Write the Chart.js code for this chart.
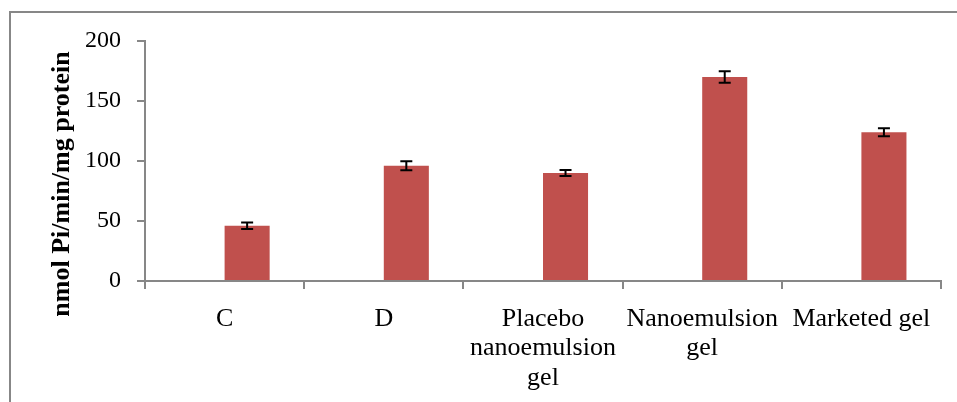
<!DOCTYPE html>
<html>
<head>
<meta charset="utf-8">
<script src="https://cdn.jsdelivr.net/npm/chart.js@4/dist/chart.umd.min.js"></script>
<style>
  html, body { margin: 0; padding: 0; background: #ffffff; overflow: hidden; }
  #frame { position: absolute; left: 9px; top: 11px; width: 1000px; height: 500px; border: 2px solid #878787; box-sizing: border-box; }
  #wrap { position: absolute; left: 0; top: 0; width: 957px; height: 402px; }
</style>
</head>
<body>
<div id="frame"></div>
<div id="wrap"><canvas id="c" width="957" height="402"></canvas></div>
<script>
const categories = ['C', 'D', ['Placebo', 'nanoemulsion', 'gel'], ['Nanoemulsion', 'gel'], 'Marketed gel'];
const emptySeries = [null, null, null, null, null];
const values = [46, 96, 90, 170, 124];
const errors = [2.7, 3.7, 2.5, 4.7, 3.3];
const yTicks = [0, 50, 100, 150, 200];
const yTitle = 'nmol Pi/min/mg protein';

const serif = "'Liberation Serif', 'Times New Roman', serif";

const errorBarPlugin = {
  id: 'errorBars',
  afterDatasetsDraw(chart) {
    const ctx = chart.ctx;
    const meta = chart.getDatasetMeta(1);
    const y = chart.scales.y;
    ctx.save();
    ctx.strokeStyle = '#000000';
    ctx.lineWidth = 2;
    meta.data.forEach((bar, i) => {
      const x = bar.x;
      const top = y.getPixelForValue(values[i] + errors[i]);
      const bot = y.getPixelForValue(values[i] - errors[i]);
      const cap = 6;
      ctx.beginPath();
      ctx.moveTo(x, top); ctx.lineTo(x, bot);
      ctx.moveTo(x - cap, top); ctx.lineTo(x + cap, top);
      ctx.moveTo(x - cap, bot); ctx.lineTo(x + cap, bot);
      ctx.stroke();
    });
    ctx.restore();
  }
};

const titlePlugin = {
  id: 'yTitle',
  afterDraw(chart) {
    const ctx = chart.ctx;
    ctx.save();
    ctx.translate(62, 184);
    ctx.rotate(-Math.PI / 2);
    ctx.font = "bold 26px " + serif;
    ctx.fillStyle = '#000000';
    ctx.textAlign = 'center';
    ctx.textBaseline = 'middle';
    ctx.fillText(yTitle, 0, 0);
    ctx.restore();
  }
};

new Chart(document.getElementById('c'), {
  type: 'bar',
  data: {
    labels: categories,
    datasets: [
      { data: emptySeries, backgroundColor: 'rgba(0,0,0,0)', borderWidth: 0, barPercentage: 1.0, categoryPercentage: 0.566 },
      { data: values, backgroundColor: '#C0504D', borderWidth: 0, barPercentage: 1.0, categoryPercentage: 0.566 }
    ]
  },
  options: {
    responsive: false,
    animation: false,
    devicePixelRatio: 1,
    layout: { padding: { left: 0, top: 41, right: 16, bottom: 0 } },
    plugins: { legend: { display: false }, tooltip: { enabled: false } },
    scales: {
      x: {
        afterFit(scale) { scale.height = 121; },
        grid: { drawOnChartArea: false, offset: true, color: '#878787', lineWidth: 2, tickLength: 8, tickColor: '#878787' },
        border: { color: '#878787', width: 2 },
        ticks: { color: '#000000', font: { family: serif, size: 26, lineHeight: 1.14 }, padding: 15, maxRotation: 0, autoSkip: false }
      },
      y: {
        min: 0, max: 200,
        afterFit(scale) { scale.width = 145; },
        afterBuildTicks(scale) { scale.ticks = yTicks.map(v => ({ value: v })); },
        grid: { drawOnChartArea: false, color: '#878787', lineWidth: 2, tickLength: 8, tickColor: '#878787' },
        border: { color: '#878787', width: 2 },
        ticks: { color: '#000000', font: { family: serif, size: 24 }, padding: 16 }
      }
    }
  },
  plugins: [errorBarPlugin, titlePlugin]
});
</script>
</body>
</html>
